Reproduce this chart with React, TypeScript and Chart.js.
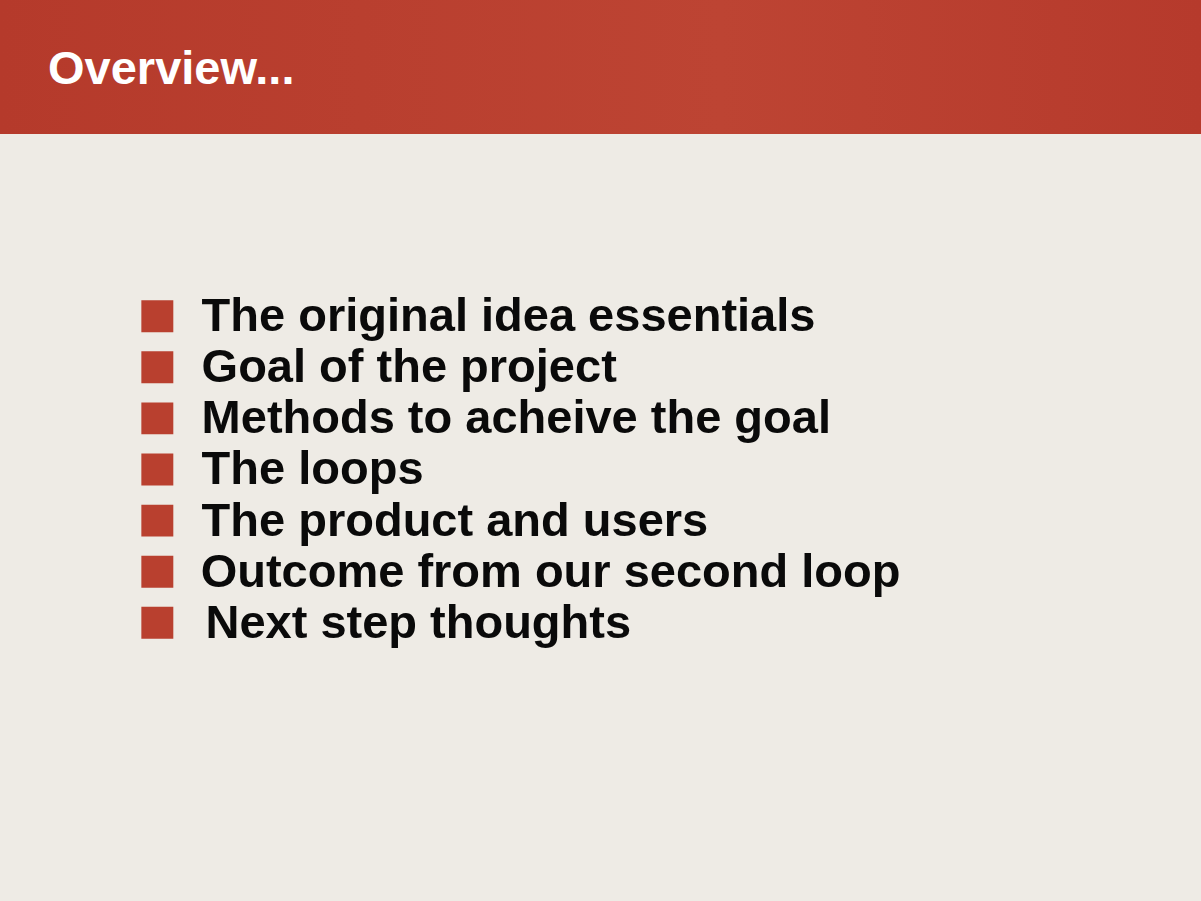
import { useEffect, useRef } from "react"
import { Chart, registerables } from "chart.js"

Chart.register(...registerables)

const title = "Overview..."
const items = [
  "The original idea essentials",
  "Goal of the project",
  "Methods to acheive the goal",
  "The loops",
  "The product and users",
  "Outcome from our second loop",
  "Next step thoughts",
]
const bulletX = items.map(() => 140)
const textX = [186, 186, 186, 186, 186, 185, 190]

const labelPlugin = {
  id: "itemLabels",
  afterDatasetsDraw(chart: any) {
    const { ctx, scales } = chart
    ctx.save()
    ctx.fillStyle = "#0a0a0a"
    ctx.font = "bold 47px 'Liberation Sans', Arial, sans-serif"
    ctx.textBaseline = "middle"
    items.forEach((t, i) => {
      ctx.fillText(t, scales.x.getPixelForValue(textX[i]), scales.y.getPixelForValue(i) + 2)
    })
    ctx.restore()
  },
}

export default function App() {
  const chartRef = useRef<HTMLCanvasElement>(null)
  const chartInstance = useRef<any>(null)

  useEffect(() => {
    document.body.style.margin = "0"
    if (chartRef.current) {
      if (chartInstance.current) chartInstance.current.destroy()
      chartInstance.current = new Chart(chartRef.current.getContext("2d")!, {
        type: "scatter",
        data: {
          labels: items,
          datasets: [
            {
              data: items.map((t, i) => ({ x: bulletX[i], y: t })),
              pointStyle: "rect",
              pointRadius: 22.6,
              pointHoverRadius: 22.6,
              backgroundColor: "#b9402f",
              borderWidth: 0,
            },
          ],
        },
        options: {
          animation: false,
          responsive: false,
          devicePixelRatio: 1,
          layout: { padding: 0 },
          plugins: { legend: { display: false }, tooltip: { enabled: false } },
          scales: {
            x: { type: "linear", min: 0, max: 1201, display: false },
            y: { type: "category", labels: items, offset: true, display: false },
          },
        },
        plugins: [labelPlugin],
      })
    }
    return () => {
      if (chartInstance.current) chartInstance.current.destroy()
    }
  }, [])

  return (
    <div style={{ position: "relative", width: 1201, height: 901, background: "#eeebe5", overflow: "hidden" }}>
      <div
        style={{
          position: "absolute",
          left: 0,
          top: 0,
          width: 1201,
          height: 134,
          background: "linear-gradient(90deg, #b53a2b 0%, #bd4433 60%, #b63a2c 100%)",
        }}
      >
        <div
          style={{
            position: "absolute",
            left: 48,
            top: 38,
            color: "#ffffff",
            font: "bold 47px 'Liberation Sans', Arial, sans-serif",
            lineHeight: "60px",
          }}
        >
          {title}
        </div>
      </div>
      <canvas
        ref={chartRef}
        width={1201}
        height={403}
        style={{ position: "absolute", left: 0, top: 268, width: 1201, height: 403 }}
      />
    </div>
  )
}
